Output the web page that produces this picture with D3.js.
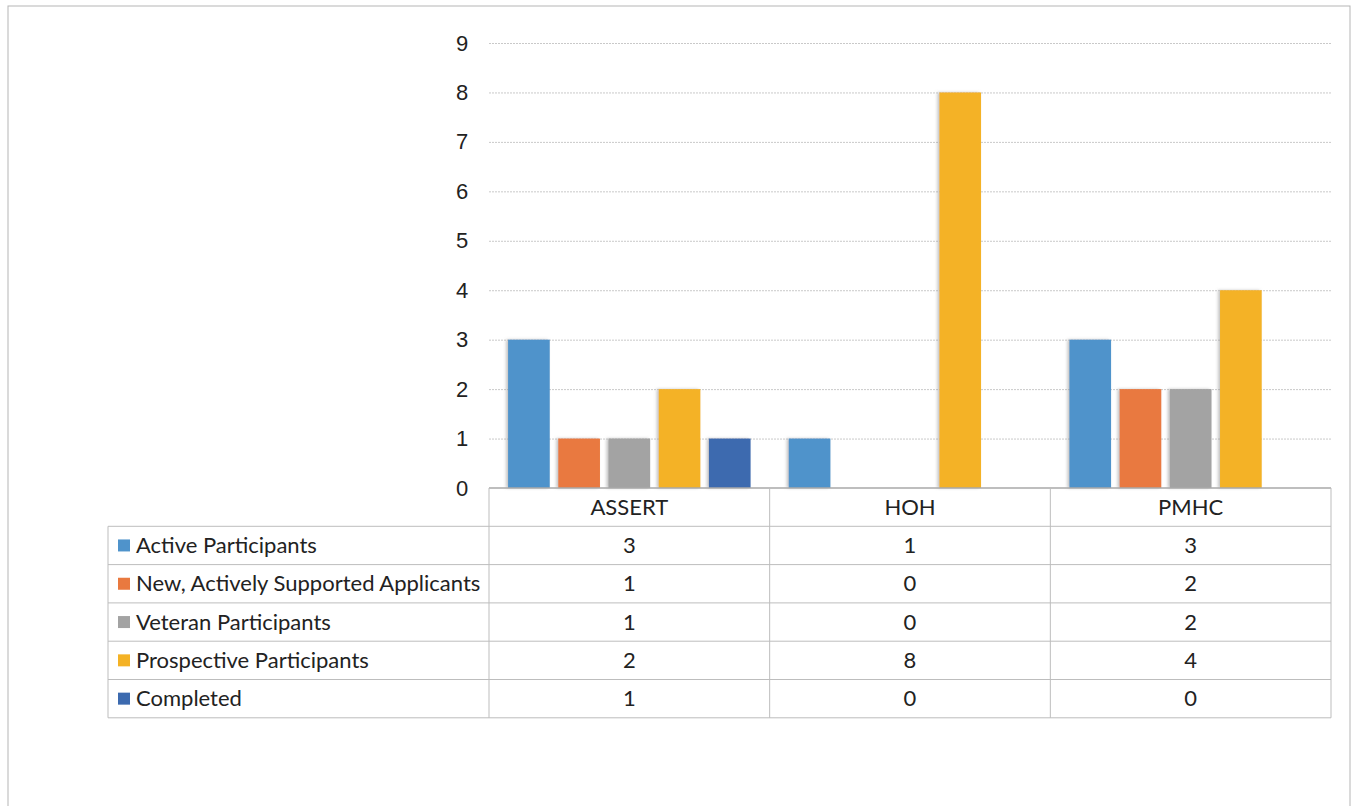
<!DOCTYPE html>
<html>
<head>
<meta charset="utf-8">
<script src="https://cdn.jsdelivr.net/npm/d3@7"></script>
<style>
  body { margin: 0; background: #fff; }
  svg { display: block; font-family: Lato, "Open Sans", sans-serif; }
  .grid line { stroke: #c9c9c9; stroke-width: 1; stroke-dasharray: 2 1; }
  .grid path { display: none; }
  .ylab text { fill: #222; font-size: 22px; }
  .cell { fill: #222; font-size: 22px; }
  .tbl { stroke: #bdbdbd; stroke-width: 1; fill: none; }
</style>
</head>
<body>
<div id="chart"></div>
<script>
const categories = ['ASSERT', 'HOH', 'PMHC'];
const seriesNames = [
  'Active Participants',
  'New, Actively Supported Applicants',
  'Veteran Participants',
  'Prospective Participants',
  'Completed'
];
const activeParticipants = [3, 1, 3];
const newApplicants = [1, 0, 2];
const veteranParticipants = [1, 0, 2];
const prospectiveParticipants = [2, 8, 4];
const completed = [1, 0, 0];
const seriesColors = ['#4f93cb', '#e9793f', '#a3a3a3', '#f4b225', '#3c6aaf'];

const values = [activeParticipants, newApplicants, veteranParticipants, prospectiveParticipants, completed];

const W = 1353, H = 806;
const plot = {left: 489, right: 1331, top: 43, bottom: 488};
const rowH = 38.3;

const svg = d3.select('#chart')
  .append('svg')
  .attr('width', W)
  .attr('height', H);

// outer frame of the scanned chart
svg.append('rect')
  .attr('x', 8).attr('y', 6)
  .attr('width', 1342).attr('height', 820)
  .attr('fill', 'none')
  .attr('stroke', '#b5b5b5');

const y = d3.scaleLinear().domain([0, 9]).range([plot.bottom, plot.top]);
const x0 = d3.scaleBand().domain(categories).range([plot.left, plot.right]);
const x1 = d3.scaleBand().domain(seriesNames).range([0, x0.bandwidth()])
  .paddingInner(0.17).paddingOuter(0.38);

// gridlines
svg.append('g')
  .attr('class', 'grid')
  .attr('transform', `translate(${plot.left},0)`)
  .call(d3.axisRight(y).ticks(9).tickSize(plot.right - plot.left).tickFormat(''))
  .call(g => g.selectAll('.tick').filter(d => d === 0).remove());

// y labels
svg.append('g')
  .attr('class', 'ylab')
  .attr('transform', `translate(${plot.left - 27},0)`)
  .call(d3.axisLeft(y).ticks(9).tickSize(0).tickPadding(0))
  .call(g => g.select('.domain').remove())
  .call(g => g.selectAll('text').attr('text-anchor', 'middle').attr('dy', '0.32em'));

// soft shadow like the original bars
const defs = svg.append('defs');
const f = defs.append('filter').attr('id', 'shadow').attr('x', '-20%').attr('width', '140%');
f.append('feDropShadow').attr('dx', -2).attr('dy', 0).attr('stdDeviation', 1.5)
  .attr('flood-color', '#888').attr('flood-opacity', 0.5);

// bars
const rows = [];
categories.forEach((c, ci) => {
  seriesNames.forEach((s, si) => {
    rows.push({cat: c, series: s, si: si, value: values[si][ci]});
  });
});

svg.append('g')
  .selectAll('rect')
  .data(rows.filter(d => d.value > 0))
  .enter()
  .append('rect')
  .attr('x', d => x0(d.cat) + x1(d.series))
  .attr('y', d => y(d.value))
  .attr('width', x1.bandwidth())
  .attr('height', d => y(0) - y(d.value))
  .attr('fill', d => seriesColors[d.si])
  .attr('filter', 'url(#shadow)');

// data table
const tbl = svg.append('g');
const tableLeft = 108;
const headBottom = plot.bottom + rowH;
const tableBottom = headBottom + rowH * seriesNames.length;

// axis line / top of the header
tbl.append('line').attr('class', 'tbl')
  .attr('x1', plot.left).attr('x2', plot.right)
  .attr('y1', plot.bottom).attr('y2', plot.bottom)
  .style('stroke', '#a8a8a8').style('stroke-width', 1.5);

// horizontal row lines
d3.range(seriesNames.length + 1).forEach(i => {
  tbl.append('line').attr('class', 'tbl')
    .attr('x1', tableLeft).attr('x2', plot.right)
    .attr('y1', headBottom + i * rowH).attr('y2', headBottom + i * rowH);
});

// vertical lines
tbl.append('line').attr('class', 'tbl')
  .attr('x1', tableLeft).attr('x2', tableLeft)
  .attr('y1', headBottom).attr('y2', tableBottom);
categories.concat(['end']).forEach((c, i) => {
  const xx = i < categories.length ? x0(c) : plot.right;
  tbl.append('line').attr('class', 'tbl')
    .attr('x1', xx).attr('x2', xx)
    .attr('y1', plot.bottom).attr('y2', tableBottom);
});

// header labels
tbl.selectAll('.head')
  .data(categories)
  .enter()
  .append('text')
  .attr('class', 'cell')
  .attr('x', d => x0(d) + x0.bandwidth() / 2)
  .attr('y', plot.bottom + rowH / 2)
  .attr('dy', '0.35em')
  .attr('text-anchor', 'middle')
  .text(d => d);

// row labels with legend keys
const rowG = tbl.selectAll('.row')
  .data(seriesNames)
  .enter()
  .append('g')
  .attr('transform', (d, i) => `translate(0,${headBottom + i * rowH + rowH / 2})`);

rowG.append('rect')
  .attr('x', 118).attr('y', -6)
  .attr('width', 12).attr('height', 12)
  .attr('fill', (d, i) => seriesColors[i]);

rowG.append('text')
  .attr('class', 'cell')
  .attr('x', 136)
  .attr('dy', '0.35em')
  .text(d => d);

rowG.each(function(s, si) {
  d3.select(this).selectAll('.val')
    .data(categories)
    .enter()
    .append('text')
    .attr('class', 'cell')
    .attr('x', c => x0(c) + x0.bandwidth() / 2)
    .attr('dy', '0.35em')
    .attr('text-anchor', 'middle')
    .text((c, ci) => values[si][ci]);
});
</script>
</body>
</html>
